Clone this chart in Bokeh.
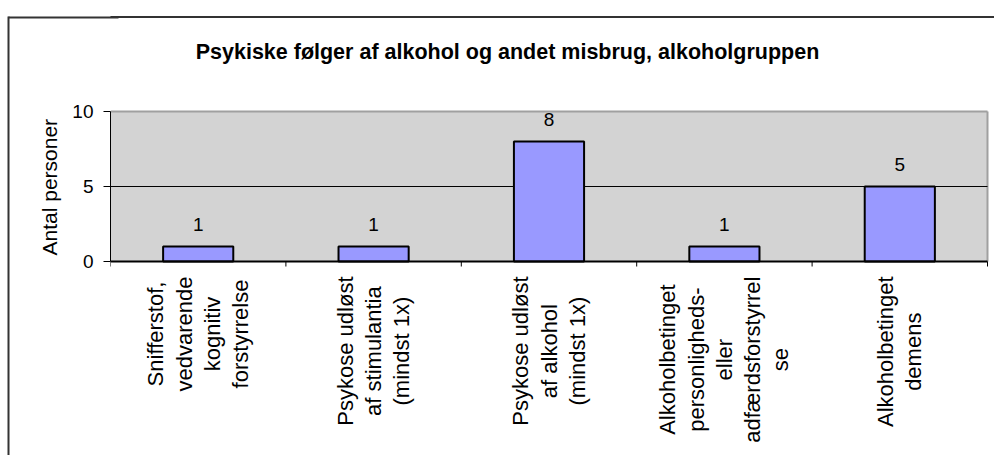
import math
from bokeh.plotting import figure
from bokeh.models import (Range1d, FixedTicker, ColumnDataSource, LabelSet, Label,
                          LinearAxis, Title)
from bokeh.core.properties import value
from bokeh.embed import file_html
from bokeh.resources import INLINE

# ---- data ----
title_text = "Psykiske følger af alkohol og andet misbrug, alkoholgruppen"
y_label = "Antal personer"
categories = [
    "Snifferstof,\nvedvarende\nkognitiv\nforstyrrelse",
    "Psykose udløst\naf stimulantia\n(mindst 1x)",
    "Psykose udløst\naf alkohol\n(mindst 1x)",
    "Alkoholbetinget\npersonligheds-\neller\nadfærdsforstyrrel\nse",
    "Alkoholbetinget\ndemens",
]
values = [1, 1, 8, 1, 5]
y_ticks = [0, 5, 10]
y_max = 10

FONT = "Liberation Sans"

n = len(categories)
xs = [i + 0.5 for i in range(n)]
boundaries = list(range(n + 1))
src = ColumnDataSource(dict(x=xs, top=values, lbl=[str(v) for v in values]))

# layout constants (pixels)
PX_X = 175.4          # pixels per category
PX_Y = 15.0           # pixels per count unit
Y_LO, Y_HI = -12.933, 17.4
Y_BORDER = 16.3       # outer chart border (top edge)

p = figure(width=994, height=455, output_backend="svg", toolbar_location=None,
           x_range=Range1d(0, 5.0399), y_range=Range1d(Y_LO, Y_HI),
           min_border_left=110, min_border_right=0, min_border_top=0,
           min_border_bottom=0)
p.background_fill_color = "white"
p.border_fill_color = "white"
p.outline_line_color = None
p.xaxis.visible = False
p.xgrid.visible = False
p.ygrid.visible = False

# outer chart border (top edge inside the frame)
p.segment(x0=-1, y0=Y_BORDER, x1=10, y1=Y_BORDER, line_color="#333333", line_width=2)

# plot area
p.quad(left=0, right=n, bottom=0, top=y_max, fill_color="#D3D3D3", line_color=None)
p.segment(x0=[0, n], y0=[y_max, 0], x1=[n, n], y1=[y_max, y_max],
          line_color="#A0A0A0", line_width=2)
# gridline
p.segment(x0=0, y0=y_ticks[1], x1=n, y1=y_ticks[1], line_color="black", line_width=1)

# bars
p.vbar(x="x", top="top", width=0.4, bottom=0, source=src,
       fill_color="#9999FF", line_color="black", line_width=2)

labels = LabelSet(x="x", y="top", text="lbl", source=src, y_offset=16,
                  text_align="center", text_baseline="alphabetic",
                  text_font=value(FONT), text_font_size="19px", text_color="black")
p.add_layout(labels)

# category axis: line and boundary ticks
p.segment(x0=0, y0=0, x1=n, y1=0, line_color="black", line_width=2)
p.segment(x0=boundaries, y0=[0] * len(boundaries), x1=boundaries,
          y1=[-5 / PX_Y] * len(boundaries), line_color="black", line_width=1)

# value axis
yax = p.yaxis[0]
yax.ticker = FixedTicker(ticks=y_ticks)
yax.bounds = (0, y_max)
yax.major_tick_in = 0
yax.major_tick_out = 7
yax.minor_tick_line_color = None
yax.axis_line_color = "black"
yax.major_tick_line_color = "black"
yax.major_label_text_font = FONT
yax.major_label_text_font_size = "19px"
yax.major_label_text_color = "black"
yax.major_label_standoff = 10

# y axis title, positioned along the plot area
p.add_layout(Title(text=y_label, align="left", offset=200, standoff=18,
                   vertical_align="bottom", text_font=FONT, text_font_size="21px",
                   text_font_style="normal", text_color="black"), "left")

# spacer + outer chart border (left edge and top-left corner)
spacer = LinearAxis(ticker=FixedTicker(ticks=[Y_LO + 0.02]), bounds=(Y_LO, Y_LO + 0.05),
                    axis_line_color="white", major_tick_line_color="white",
                    major_tick_out=18, major_tick_in=0, minor_tick_out=0,
                    minor_tick_in=0, minor_tick_line_color=None,
                    major_label_overrides={Y_LO + 0.02: ""})
p.add_layout(spacer, "left")
border_axis = LinearAxis(ticker=FixedTicker(ticks=[Y_BORDER]),
                         bounds=(Y_LO, Y_BORDER + 0.05),
                         axis_line_color="#333333", axis_line_width=2,
                         major_tick_line_color="#333333", major_tick_line_width=2,
                         major_tick_in=110, major_tick_out=0,
                         minor_tick_line_color=None, minor_tick_in=0, minor_tick_out=0,
                         major_label_overrides={Y_BORDER: ""})
p.add_layout(border_axis, "left")

# category labels (rotated, multi-line, centred lines), just below the axis
for x, c in zip(xs, categories):
    p.add_layout(Label(x=x, y=-15 / PX_Y, text=c,
                       angle=math.pi / 2, text_align="center", anchor="center_right",
                       text_font=FONT, text_font_size="22px", text_color="black",
                       text_line_height=1.13))

# chart title, centred over the whole chart area
p.add_layout(Label(x=(507 - 110) / PX_X, y=y_max + (111 - 51) / PX_Y, text=title_text,
                   text_align="center", text_baseline="alphabetic",
                   text_font=FONT, text_font_size="21.5px", text_font_style="bold",
                   text_color="black"))

open("out.html", "w").write(file_html(p, INLINE))
